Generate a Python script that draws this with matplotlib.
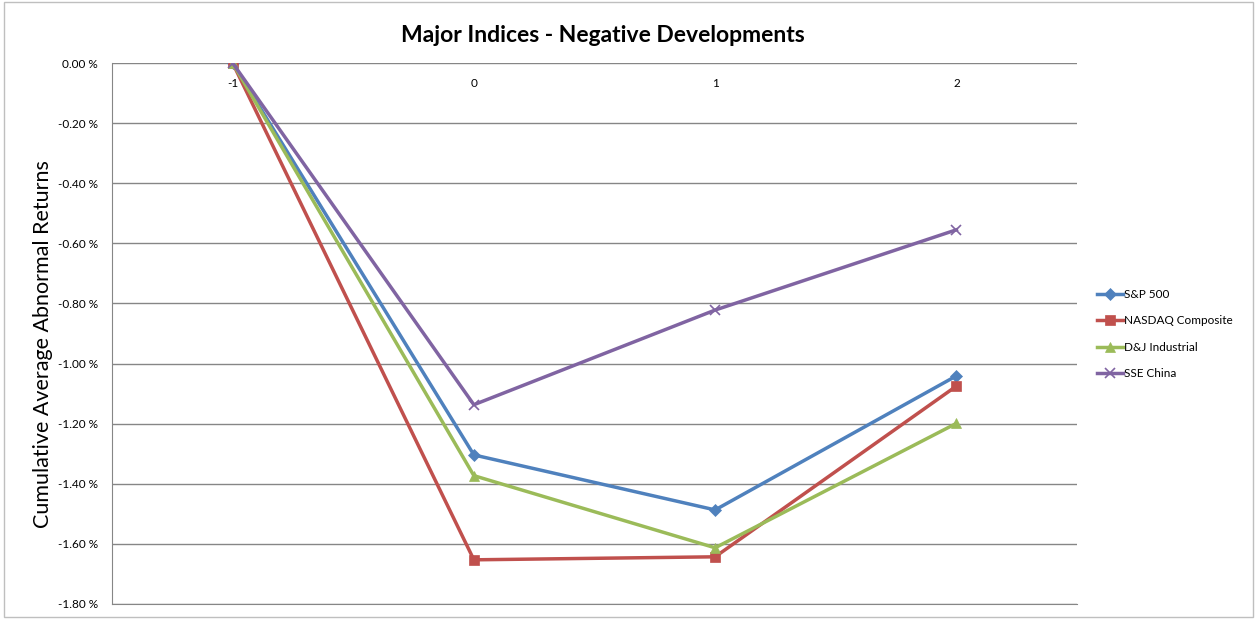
import matplotlib
matplotlib.use('Agg')
import matplotlib.pyplot as plt
from matplotlib.patches import Rectangle
from matplotlib.ticker import FuncFormatter

plt.rcParams['font.family'] = ['Lato', 'DejaVu Sans']

days = [-1, 0, 1, 2]
sp500 = [0.0, -1.304, -1.487, -1.041]
nasdaq = [0.0, -1.653, -1.643, -1.075]
dj_industrial = [0.0, -1.373, -1.613, -1.199]
sse_china = [0.0, -1.137, -0.822, -0.555]

series = [
    ('S&P 500', sp500, '#4F81BD', 'D', 6),
    ('NASDAQ Composite', nasdaq, '#C0504D', 's', 7),
    ('D&J Industrial', dj_industrial, '#9BBB59', '^', 7),
    ('SSE China', sse_china, '#8064A2', 'x', 7),
]

fig = plt.figure(figsize=(12.57, 6.19), dpi=100)
ax = fig.add_axes([112 / 1257, 1 - 604 / 619, (1077 - 112) / 1257, (604 - 63) / 619])

for name, vals, color, marker, ms in series:
    ax.plot(days, vals, color=color, lw=2.5, marker=marker, markersize=ms,
            markeredgewidth=1.2 if marker == 'x' else 0.5, label=name, zorder=3)

ax.set_xlim(-1.5, 2.5)
ax.set_ylim(-1.8, 0.0)
ax.set_yticks([-1.8 + 0.2 * i for i in range(10)])
ax.yaxis.set_major_formatter(FuncFormatter(lambda v, p: f'{v:.2f} %'))
ax.set_xticks(days)
ax.set_xticklabels([str(d) for d in days])

ax.grid(axis='y', color='#868686', lw=1)
ax.set_axisbelow(True)
for s in ['top', 'right']:
    ax.spines[s].set_visible(False)
for s in ['left', 'bottom']:
    ax.spines[s].set_color('#868686')
ax.tick_params(axis='y', length=0, pad=10, labelsize=8.5, colors='#000000')
# category labels sit just under the zero line
ax.tick_params(axis='x', length=0, labelsize=8.5, pad=-19,
               labeltop=True, labelbottom=False)

ax.set_ylabel('Cumulative Average Abnormal Returns', fontsize=15.5, labelpad=4)
ax.yaxis.set_label_coords(-0.061, 0.48)
fig.text(603 / 1257, 1 - 36 / 619, 'Major Indices - Negative Developments',
         ha='center', va='center', fontsize=16.5, fontweight='bold')

ax.legend(loc='center left', bbox_to_anchor=(1.01, 0.499), frameon=False,
          fontsize=8.5, handlelength=2.2, handletextpad=0.1, labelspacing=1.3)

fig.patches.append(Rectangle((0.003, 0.003), 0.994, 0.994, transform=fig.transFigure,
                             fill=False, edgecolor='#BFBFBF', lw=1))

fig.savefig('out.png', dpi=100)
